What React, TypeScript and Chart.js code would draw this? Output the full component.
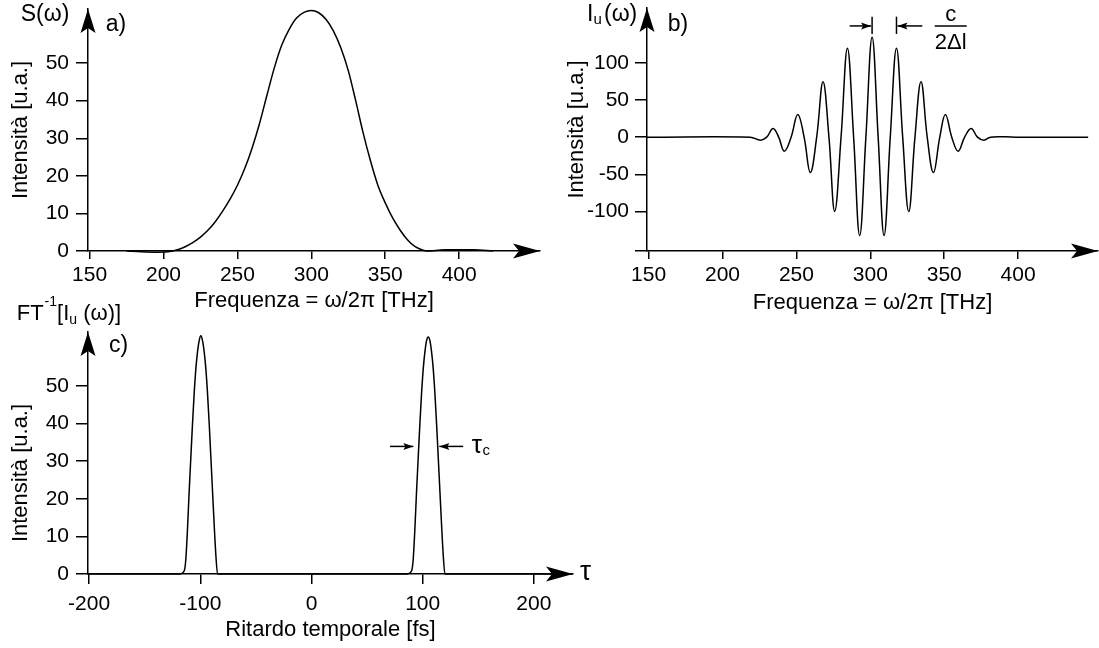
import React, { useEffect, useRef } from 'react';
import { Chart, registerables } from 'chart.js';

Chart.register(...registerables);

const FONT = "'Liberation Sans', Arial, Helvetica, sans-serif";
Chart.defaults.font.family = FONT;
Chart.defaults.color = '#000';

// ---------- Panel a: spectrum S(ω) ----------
const specFreq = [175, 185, 195, 203, 210, 215, 220, 225, 230, 235, 240, 245, 250, 255, 260, 265, 270, 275, 280, 285, 290, 295, 300, 305, 310, 315, 320, 325, 330, 335, 340, 345, 350, 355, 360, 365, 370, 375, 378, 390, 410, 423];
const specVal = [0, -0.2, -0.3, -0.2, 0.4, 1.2, 2.3, 3.7, 5.5, 7.8, 10.6, 13.8, 17.5, 22, 27.5, 34, 41.5, 48.8, 54.8, 59, 62, 63.5, 64, 63.4, 61.6, 58.5, 54, 48, 40, 31.5, 24, 17.5, 12.8, 8.8, 5.6, 3, 1.2, 0.3, 0, 0.3, 0.3, 0];
const freqTicks = [150, 200, 250, 300, 350, 400];
const specYTicks = [0, 10, 20, 30, 40, 50];
const freqMinA = 148.9;
const freqMaxA = 454.7;
const specMax = 64.4;

// ---------- Panel b: interferogram Iu(ω) ----------
const interfFreq = [148.9, 218.8, 225.6, 229.9, 234.2, 238, 241.8, 246.4, 250.9, 255.2, 259.4, 263.7, 268, 272, 275.9, 280.2, 284.5, 288.7, 292.8, 297, 301.2, 305.3, 309.3, 313.5, 317.7, 321.9, 326, 330.2, 334.3, 338.5, 342.7, 347, 350.8, 355.1, 359.4, 363.8, 368.2, 372.5, 376.8, 381.3, 391, 400, 447.4];
const interfVal = [0, 0, -4, 0, 11.7, 0, -18.9, 0, 30.6, 0, -47.6, 0, 74.6, 0, -99.8, 0, 119.6, 0, -132.2, 0, 134.4, 0, -132.2, 0, 119.6, 0, -100, 0, 74.6, 0, -47.6, 0, 30.6, 0, -18.9, 0, 11.7, 0, -4, 0, 0.5, 0, 0];
const interfYTicks = [-153, -100, -50, 0, 50, 100];
const interfYLabels = [-100, -50, 0, 50, 100];
const freqMinB = 148.9;
const freqMaxB = 454.05;
const interfMin = -153;
const interfMax = 173.6;
// annotation c/2Δl (data coordinates)
const fringeMarkX = [301.2, 317.7];
const fringeArrowFrom = [286.0, 335.2];
const fringeMarkTop = 162;
const fringeMarkBottom = 138.7;
const fringeArrowLevel = 149.5;
const fringeFracX = 354.4;
const fringeNumY = 164.2;
const fringeDenY = 126.2;

// ---------- Panel c: FT^-1 ----------
const delayX = [-201, -119, -114.5, -113, -111.5, -110, -108.5, -107, -105.5, -104, -102.5, -101, -99.5, -98, -96.5, -95, -93.5, -92, -90.5, -89, -87.5, -86, -84.5,
  85.5, 90, 91.5, 93, 94.5, 96, 97.5, 99, 100.5, 102, 103.5, 105, 106.5, 108, 109.5, 111, 112.5, 114, 115.5, 117, 118.5, 120, 235];
const delayY = [0, 0, 0.8, 4, 12, 22, 31, 40, 48, 54.5, 59, 62, 63.3, 62, 59, 54.5, 48, 40, 31, 22, 13, 5, 0,
  0, 0.8, 4, 12, 22, 31, 40, 48, 54.5, 59, 62, 63, 62, 59, 54.5, 48, 40, 31, 22, 13, 5, 0, 0];
const delayTicks = [-200, -100, 0, 100, 200];
const delayYTicks = [0, 10, 20, 30, 40, 50];
const delayMin = -201;
const delayMax = 235.2;
const delayYMax = 64.3;
// annotation τc (data coordinates)
const tauLevel = 33.9;
const tauArrowFrom = [70.6, 136.5];
const tauArrowTo = [91.6, 115];
const tauLabelX = 144.1;

const TICK_SIZE = 21;
const TITLE_SIZE = 22;

// ---------- helpers ----------
function head(ctx: any, tx: number, ty: number, dx: number, dy: number, len: number, half: number, notch: number) {
  const bx = tx - dx * len, by = ty - dy * len;
  const nx = -dy, ny = dx;
  ctx.beginPath();
  ctx.moveTo(tx, ty);
  ctx.lineTo(bx + nx * half, by + ny * half);
  ctx.lineTo(tx - dx * (len - notch), ty - dy * (len - notch));
  ctx.lineTo(bx - nx * half, by - ny * half);
  ctx.closePath();
  ctx.fill();
}

function txt(ctx: any, s: string, x: number, y: number, size: number, align = 'left') {
  ctx.font = `${size}px ${FONT}`;
  ctx.textAlign = align;
  ctx.textBaseline = 'middle';
  ctx.fillText(s, x, y);
  return ctx.measureText(s).width;
}

function smallArrow(ctx: any, x0: number, x1: number, y: number) {
  ctx.beginPath();
  ctx.moveTo(x0, y);
  ctx.lineTo(x1, y);
  ctx.lineWidth = 1.5;
  ctx.stroke();
  head(ctx, x1, y, x1 > x0 ? 1 : -1, 0, 10, 3.5, 2);
}

function xScale(min: number, max: number, ticks: number[], height: number, tickLen: number, tickPad: number, title: string, titlePad: number) {
  return {
    type: 'linear', position: 'bottom', min, max, bounds: 'data',
    afterBuildTicks: (s: any) => { s.ticks = ticks.map((v) => ({ value: v })); },
    afterFit: (s: any) => { s.height = height; s.paddingLeft = 0; s.paddingRight = 0; },
    border: { display: true, color: '#000', width: 1.5 },
    grid: { display: true, drawOnChartArea: false, drawTicks: true, tickLength: tickLen, color: '#000', lineWidth: 1.5 },
    ticks: { autoSkip: false, maxRotation: 0, minRotation: 0, padding: tickPad, color: '#000', font: { size: TICK_SIZE, family: FONT }, callback: (v: any) => String(v) },
    title: { display: true, text: title, color: '#000', font: { size: TITLE_SIZE, family: FONT }, padding: { top: 0, bottom: titlePad } },
  };
}

function yScale(min: number, max: number, ticks: number[], labels: number[], width: number, tickLen: number, tickPad: number, title: string | null, titlePad: number) {
  return {
    type: 'linear', position: 'left', min, max, bounds: 'data',
    afterBuildTicks: (s: any) => { s.ticks = ticks.map((v) => ({ value: v })); },
    afterFit: (s: any) => { s.width = width; s.paddingTop = 0; s.paddingBottom = 0; },
    border: { display: true, color: '#000', width: 1.5 },
    grid: { display: true, drawOnChartArea: false, drawTicks: true, tickLength: tickLen, color: '#000', lineWidth: 1.5 },
    ticks: { autoSkip: false, padding: tickPad, color: '#000', font: { size: TICK_SIZE, family: FONT }, callback: (v: any) => (labels.includes(v) ? String(v) : '') },
    title: { display: !!title, text: title || '', color: '#000', font: { size: TITLE_SIZE, family: FONT }, padding: { top: titlePad, bottom: 0 } },
  };
}

function decoPlugin(extra: (chart: any, ctx: any, ca: any) => void) {
  return {
    id: 'deco',
    afterDraw(chart: any) {
      const { ctx, chartArea: ca } = chart;
      ctx.save();
      ctx.fillStyle = '#000';
      ctx.strokeStyle = '#000';
      head(ctx, ca.right, ca.bottom, 1, 0, 27, 7.5, 6);
      head(ctx, ca.left, ca.top, 0, -1, 24, 7.5, 5);
      extra(chart, ctx, ca);
      ctx.restore();
    },
  };
}

function lineDataset(xs: number[], ys: number[], smooth: 'monotone' | 'bezier') {
  return {
    data: xs.map((x, i) => ({ x, y: ys[i] })),
    borderColor: '#000', borderWidth: 1.5, pointRadius: 0, fill: false,
    cubicInterpolationMode: smooth === 'monotone' ? 'monotone' : 'default',
    tension: smooth === 'monotone' ? 0 : 0.4,
    clip: false,
  };
}

const baseOptions = (padding: any) => ({
  responsive: false, maintainAspectRatio: false, animation: false, events: [],
  layout: { padding },
  plugins: { legend: { display: false }, tooltip: { enabled: false }, title: { display: false } },
});

const cfgA = () => ({
  type: 'line',
  data: { datasets: [lineDataset(specFreq, specVal, 'monotone')] },
  options: {
    ...baseOptions({ left: 0, top: 9, right: 5, bottom: 0 }),
    scales: {
      x: xScale(freqMinA, freqMaxA, freqTicks, 69, 8, 4, 'Frequenza = ω/2π [THz]', 5.6),
      y: yScale(0, specMax, specYTicks, specYTicks, 88, 12, 7, 'Intensità [u.a.]', 7.8),
    },
  },
  plugins: [decoPlugin((chart, ctx, ca) => {
    txt(ctx, 'S(ω)', ca.left - 43, ca.top + 6, 23, 'center');
    txt(ctx, 'a)', ca.left + 28, ca.top + 16, 23, 'center');
  })],
});

const cfgB = () => ({
  type: 'line',
  data: { datasets: [lineDataset(interfFreq, interfVal, 'bezier')] },
  options: {
    ...baseOptions({ left: 0, top: 8, right: 1, bottom: 0 }),
    scales: {
      x: xScale(freqMinB, freqMaxB, freqTicks, 69, 8, 4, 'Frequenza = ω/2π [THz]', 3.9),
      y: yScale(interfMin, interfMax, interfYTicks, interfYLabels, 87, 12, 6, 'Intensità [u.a.]', 3.8),
    },
  },
  plugins: [decoPlugin((chart, ctx, ca) => {
    const xs = chart.scales.x, ys = chart.scales.y;
    // label Iu(ω)
    const w = txt(ctx, 'I', ca.left - 60, ca.top + 7, 23);
    txt(ctx, 'u', ca.left - 60 + w, ca.top + 12, 15);
    txt(ctx, '(ω)', ca.left - 43, ca.top + 7, 23);
    txt(ctx, 'b)', ca.left + 31, ca.top + 16.5, 23, 'center');
    // fringe spacing annotation
    ctx.lineWidth = 1.5;
    const yTop = ys.getPixelForValue(fringeMarkTop);
    const yBot = ys.getPixelForValue(fringeMarkBottom);
    const yA = ys.getPixelForValue(fringeArrowLevel);
    fringeMarkX.forEach((v, i) => {
      const px = xs.getPixelForValue(v);
      ctx.beginPath();
      ctx.moveTo(px, yTop);
      ctx.lineTo(px, yBot);
      ctx.stroke();
      smallArrow(ctx, xs.getPixelForValue(fringeArrowFrom[i]), px + (i === 0 ? -1 : 1), yA);
    });
    const fx = xs.getPixelForValue(fringeFracX);
    txt(ctx, 'c', fx, ys.getPixelForValue(fringeNumY), 22, 'center');
    ctx.beginPath();
    ctx.moveTo(fx - 16, yA);
    ctx.lineTo(fx + 16, yA);
    ctx.lineWidth = 1.5;
    ctx.stroke();
    txt(ctx, '2Δl', fx, ys.getPixelForValue(fringeDenY), 22, 'center');
  })],
});

const cfgC = () => ({
  type: 'line',
  data: { datasets: [lineDataset(delayX, delayY, 'monotone')] },
  options: {
    ...baseOptions({ left: 0, top: 42, right: 27, bottom: 0 }),
    scales: {
      x: xScale(delayMin, delayMax, delayTicks, 74, 10, 8, 'Ritardo temporale [fs]', 5.2),
      y: yScale(0, delayYMax, delayYTicks, delayYTicks, 88, 12, 7, null, 0),
    },
  },
  plugins: [decoPlugin((chart, ctx, ca) => {
    const xs = chart.scales.x, ys = chart.scales.y;
    // FT^-1[Iu(ω)]
    let x = ca.left - 71.3;
    x += txt(ctx, 'FT', x, ca.top - 18, 22);
    x += txt(ctx, '-1', x + 1, ca.top - 30, 14) + 1;
    x += txt(ctx, '[I', x, ca.top - 18, 22);
    x += txt(ctx, 'u', x, ca.top - 12, 14);
    txt(ctx, ' (ω)]', x, ca.top - 18, 22);
    txt(ctx, 'c)', ca.left + 30.5, ca.top + 13.5, 23, 'center');
    // y-axis title
    ctx.save();
    ctx.translate(ca.left - 67, ca.top + 141);
    ctx.rotate(-Math.PI / 2);
    txt(ctx, 'Intensità [u.a.]', 0, 0, TITLE_SIZE, 'center');
    ctx.restore();
    // τ at the axis end
    txt(ctx, 'τ', ca.right + 7, ca.bottom - 2, 28, 'left');
    // τc annotation
    const yA = ys.getPixelForValue(tauLevel);
    tauArrowFrom.forEach((v, i) => {
      smallArrow(ctx, xs.getPixelForValue(v), xs.getPixelForValue(tauArrowTo[i]), yA);
    });
    const tx = xs.getPixelForValue(tauLabelX);
    const tw = txt(ctx, 'τ', tx, yA - 1, 26);
    txt(ctx, 'c', tx + tw + 0.5, yA + 4, 15);
  })],
});

function Panel({ make, left, top, width, height }: any) {
  const ref = useRef<HTMLCanvasElement>(null);
  useEffect(() => {
    const chart = new Chart(ref.current as HTMLCanvasElement, make() as any);
    return () => chart.destroy();
  }, []);
  return (
    <canvas
      ref={ref}
      width={width}
      height={height}
      style={{ position: 'absolute', left, top, width, height }}
    />
  );
}

export default function App() {
  return (
    <div style={{ position: 'absolute', left: 0, top: 0, width: 1099, height: 648, background: '#fff', overflow: 'hidden' }}>
      <Panel make={cfgA} left={0} top={0} width={545} height={320} />
      <Panel make={cfgB} left={560} top={0} width={539} height={320} />
      <Panel make={cfgC} left={0} top={290} width={600} height={358} />
    </div>
  );
}
